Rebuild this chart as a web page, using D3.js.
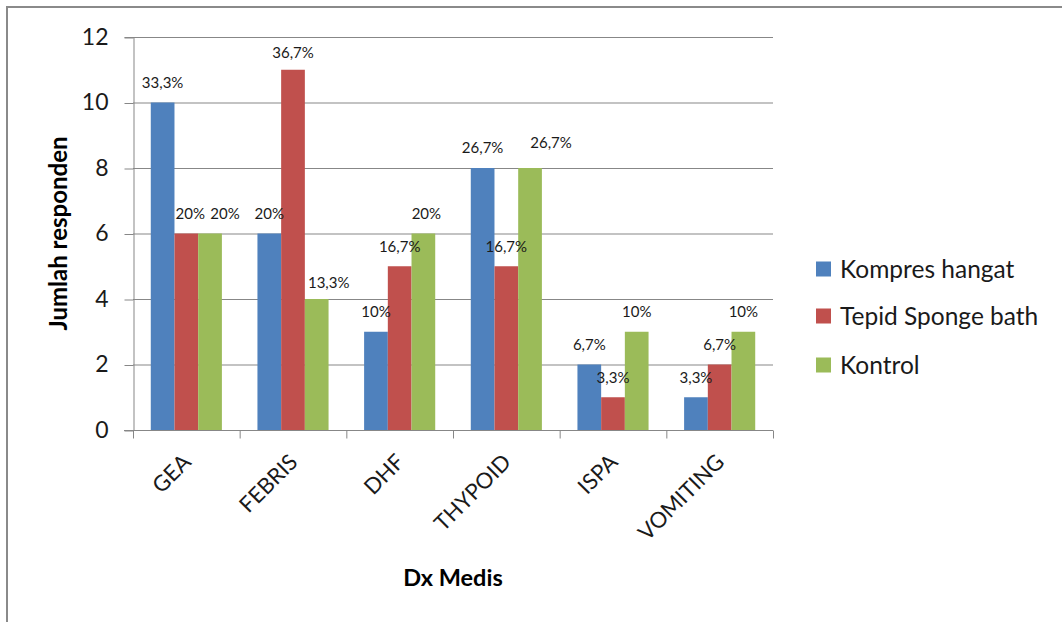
<!DOCTYPE html>
<html>
<head>
<meta charset="utf-8">
<script src="https://cdn.jsdelivr.net/npm/d3@7"></script>
<style>
  html, body { margin: 0; padding: 0; background: #fff; }
  svg { display: block; font-family: Lato, "Open Sans", sans-serif; }
</style>
</head>
<body>
<svg id="chart" width="1062" height="622"></svg>
<script>
// ---- data ----
const categories = ["GEA", "FEBRIS", "DHF", "THYPOID", "ISPA", "VOMITING"];
const seriesNames = ["Kompres hangat", "Tepid Sponge bath", "Kontrol"];
const kompresHangat = [10, 6, 3, 8, 2, 1];
const tepidSponge = [6, 11, 5, 5, 1, 2];
const kontrol = [6, 4, 6, 8, 3, 3];
const labelsKompres = ["33,3%", "20%", "10%", "26,7%", "6,7%", "3,3%"];
const labelsTepid = ["20%", "36,7%", "16,7%", "16,7%", "3,3%", "6,7%"];
const labelsKontrol = ["20%", "13,3%", "20%", "26,7%", "10%", "10%"];
const yTicks = [0, 2, 4, 6, 8, 10, 12];

// manual label nudges (layout only) [series][category] -> [dx, dy]
const labelNudge = [
  [[0,0],[0,0],[0,0],[0,0],[0,0],[0,0]],
  [[4,0],[0,3],[0,0],[0,0],[0,0],[0,0]],
  [[15,0],[12,4],[3,0],[21,-5],[0,0],[0,0]]
];

const seriesValues = [kompresHangat, tepidSponge, kontrol];
const seriesLabels = [labelsKompres, labelsTepid, labelsKontrol];
const colors = ["#4F81BD", "#C0504D", "#9BBB59"];

const svg = d3.select("#chart");

// outer frame
svg.append("rect").attr("x", 7).attr("y", 7).attr("width", 1100).attr("height", 700)
  .attr("fill", "none").attr("stroke", "#8a8a8a").attr("stroke-width", 2);

const pLeft = 133, pRight = 773, pTop = 37, pBottom = 430;

const y = d3.scaleLinear().domain([0, 12]).range([pBottom, pTop]);
const x0 = d3.scaleBand().domain(categories).range([pLeft, pRight]).padding(0);
const x1 = d3.scaleBand().domain(d3.range(seriesNames.length)).range([0, x0.bandwidth()])
  .paddingInner(0).paddingOuter(0.75);

const gridColor = "#878787";

// gridlines
svg.append("g").selectAll("line").data(yTicks.filter(d => d > 0)).join("line")
  .attr("x1", pLeft).attr("x2", pRight)
  .attr("y1", d => y(d) + 0.5).attr("y2", d => y(d) + 0.5)
  .attr("stroke", gridColor).attr("stroke-width", 1);

// y axis
const yAxis = svg.append("g").attr("transform", `translate(${pLeft + 0.5},0)`)
  .call(d3.axisLeft(y).tickValues(yTicks).tickSize(9).tickPadding(16).tickFormat(d3.format("d")));
yAxis.select(".domain").attr("stroke", gridColor);
yAxis.selectAll(".tick line").attr("stroke", gridColor).attr("transform", "translate(0,0.5)");
yAxis.selectAll(".tick text").attr("font-size", 23).attr("fill", "#1a1a1a")
  .attr("font-family", "Lato, sans-serif");

// bars
const groups = svg.append("g").selectAll("g").data(categories).join("g")
  .attr("transform", d => `translate(${x0(d)},0)`);

groups.selectAll("rect").data((c, i) => seriesValues.map((s, k) => ({k, v: s[i]})))
  .join("rect")
  .attr("x", d => x1(d.k))
  .attr("width", x1.bandwidth())
  .attr("y", d => y(d.v))
  .attr("height", d => y(0) - y(d.v))
  .attr("fill", d => colors[d.k]);

// x axis
const xAxisG = svg.append("g").attr("transform", `translate(0,${pBottom + 0.5})`);
xAxisG.append("line").attr("x1", pLeft - 9).attr("x2", pRight).attr("stroke", gridColor);
xAxisG.selectAll("line.tk").data(d3.range(categories.length + 1)).join("line")
  .attr("class", "tk")
  .attr("x1", i => pLeft + i * x0.step() + 0.5).attr("x2", i => pLeft + i * x0.step() + 0.5)
  .attr("y1", 0).attr("y2", 8).attr("stroke", gridColor);

xAxisG.selectAll("text").data(categories).join("text")
  .attr("transform", d => `translate(${x0(d) + x0.bandwidth() / 2 + 6},${33}) rotate(-45)`)
  .attr("text-anchor", "end")
  .attr("font-size", 22)
  .attr("fill", "#1a1a1a")
  .text(d => d);

// data labels
seriesValues.forEach((vals, k) => {
  svg.append("g").selectAll("text").data(categories).join("text")
    .attr("x", (c, i) => x0(c) + x1(k) + x1.bandwidth() / 2 + labelNudge[k][i][0])
    .attr("y", (c, i) => y(vals[i]) - 20 + labelNudge[k][i][1])
    .attr("dy", "0.35em")
    .attr("text-anchor", "middle")
    .attr("font-size", 15)
    .attr("fill", "#1a1a1a")
    .text((c, i) => seriesLabels[k][i]);
});

// axis titles
svg.append("text")
  .attr("x", (pLeft + pRight) / 2).attr("y", 586)
  .attr("text-anchor", "middle").attr("font-weight", "bold").attr("font-size", 23.5)
  .attr("fill", "#000").text("Dx Medis");

svg.append("text")
  .attr("transform", `translate(67,${(pTop + pBottom) / 2}) rotate(-90)`)
  .attr("text-anchor", "middle").attr("font-weight", "bold").attr("font-size", 24)
  .attr("fill", "#000").text("Jumlah responden");

// legend
const legendY = [269, 316, 365];
const legend = svg.append("g").selectAll("g").data(seriesNames).join("g")
  .attr("transform", (d, i) => `translate(816,${legendY[i]})`);
legend.append("rect").attr("x", 0).attr("y", -7.5).attr("width", 15).attr("height", 15)
  .attr("fill", (d, i) => colors[i]);
legend.append("text").attr("x", 24).attr("y", 0).attr("dy", "0.35em")
  .attr("font-size", 24.5).attr("fill", "#1a1a1a").text(d => d);
</script>
</body>
</html>
